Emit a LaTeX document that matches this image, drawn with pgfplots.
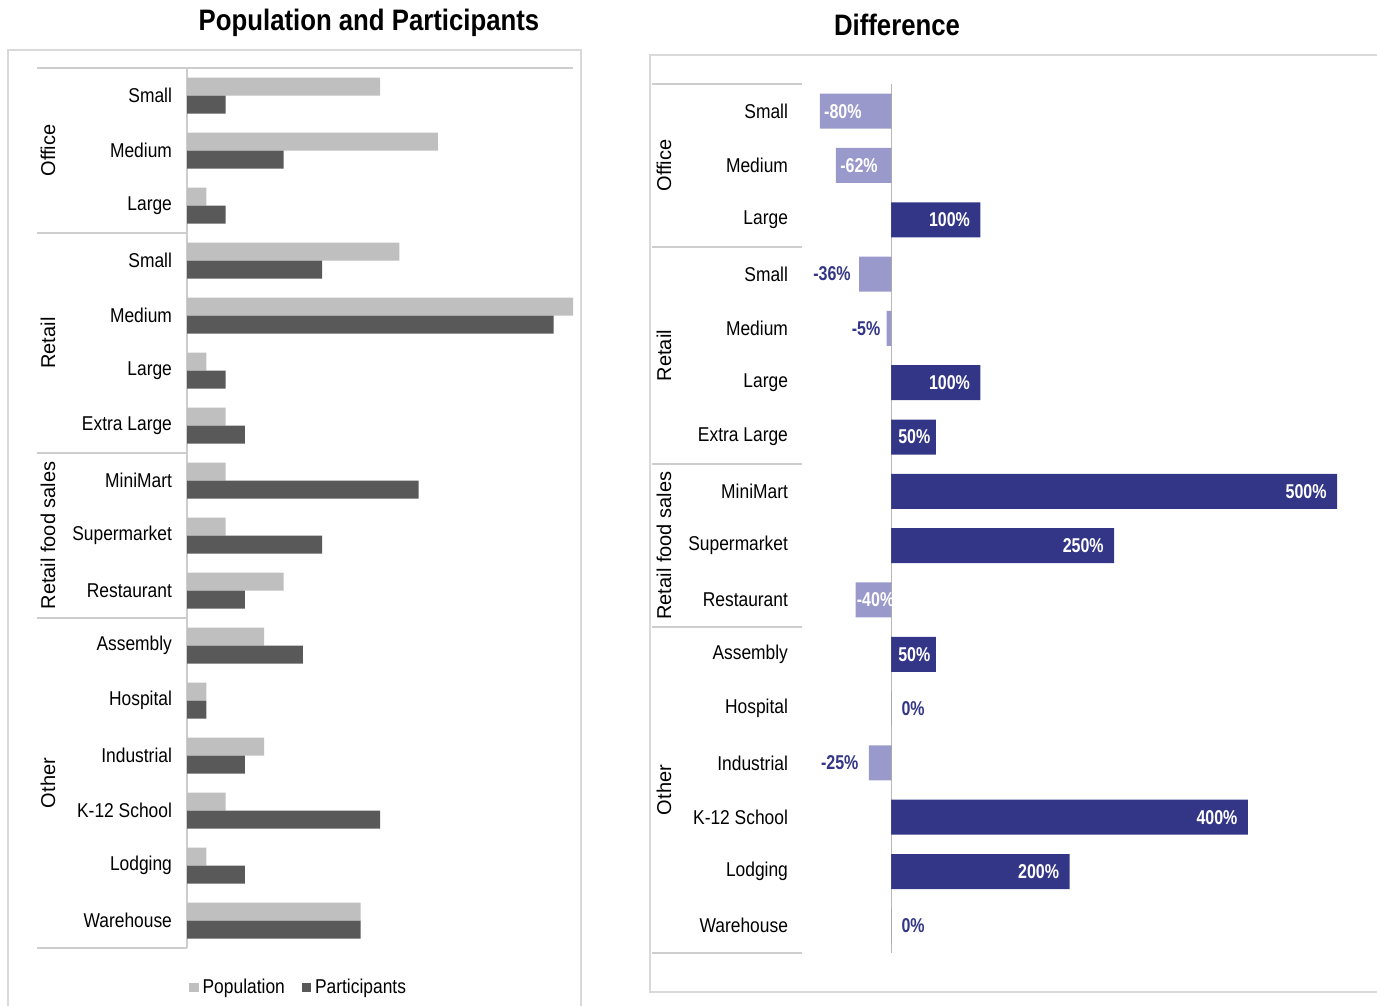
\documentclass[border=0pt]{standalone}
\usepackage{pgfplots}
\usepackage{pgfplotstable}
\pgfplotsset{compat=1.18}
\usepackage{fontspec}
\setmainfont{Liberation Sans}[FakeStretch=0.87]
\newfontfamily\grpfont{Liberation Sans}
\newfontfamily\lblfont{Liberation Sans}[FakeStretch=0.8]
\definecolor{popc}{RGB}{191,191,191}
\definecolor{partc}{RGB}{89,89,89}
\definecolor{navy}{RGB}{51,54,135}
\definecolor{lav}{RGB}{153,153,204}
\definecolor{framec}{RGB}{217,217,217}
\definecolor{sepc}{RGB}{205,205,205}
\pgfplotstableread{
y pop part
15 10 2
14 13 5
13 1 2
12 11 7
11 20 19
10 1 2
9 2 3
8 2 12
7 2 7
6 5 3
5 4 6
4 1 1
3 4 3
2 2 10
1 1 3
0 9 9
}\lefttable
\pgfplotstableread{
y pos neg
15 0 -0.80
14 0 -0.62
13 1.00 0
12 0 -0.36
11 0 -0.05
10 1.00 0
9 0.50 0
8 5.00 0
7 2.50 0
6 0 -0.40
5 0.50 0
4 0 0
3 0 -0.25
2 4.00 0
1 2.00 0
0 0 0
}\righttable
\begin{document}
\begin{tikzpicture}
\useasboundingbox (0pt,0pt) rectangle (688.5pt,-503pt);
% frames
\draw[framec, line width=0.75pt] (4pt,-25pt) rectangle (290.5pt,-512pt);
\draw[framec, line width=0.75pt] (325pt,-27.5pt) rectangle (695pt,-496pt);
% titles
\node[font=\bfseries\fontsize{14.8}{17}\selectfont] at (184.5pt,-11.5pt) {Population and Participants};
\node[font=\bfseries\fontsize{14.8}{17}\selectfont] at (448.5pt,-12.5pt) {Difference};
% LEFT
\begin{axis}[
  at={(93.5pt,-474pt)}, anchor=south west,
  scale only axis, width=193pt, height=440pt,
  xmin=0, xmax=20, ymin=-0.5, ymax=15.5,
  xbar, bar width=9pt,
  axis line style={draw=none},
  xtick=\empty, ytick={0,...,15},
  yticklabels={Warehouse,Lodging,K-12 School,Industrial,Hospital,Assembly,Restaurant,Supermarket,MiniMart,Extra Large,Large,Medium,Small,Large,Medium,Small},
  major tick length=0pt,
  yticklabel style={font=\fontsize{10}{12}\selectfont, xshift=-4pt},
  clip=false,
  legend style={draw=none, fill=none, at={(0.292,-0.045)}, anchor=center,
    legend columns=2, font=\fontsize{10}{12}\selectfont,
    /tikz/every even column/.append style={column sep=6.5pt}},
  legend image code/.code={\fill[#1] (0pt,-2.3pt) rectangle (4.6pt,2.3pt);},
]
\draw[sepc, line width=0.75pt] ([xshift=-75pt]axis cs:0,15.5) -- (axis cs:20,15.5);
\draw[sepc, line width=0.75pt] ([xshift=-75pt]axis cs:0,12.5) -- (axis cs:0,12.5);
\draw[sepc, line width=0.75pt] ([xshift=-75pt]axis cs:0,8.5) -- (axis cs:0,8.5);
\draw[sepc, line width=0.75pt] ([xshift=-75pt]axis cs:0,5.5) -- (axis cs:0,5.5);
\draw[sepc, line width=0.75pt] ([xshift=-75pt]axis cs:0,-0.5) -- (axis cs:0,-0.5);
\draw[sepc, line width=0.75pt] (axis cs:0,15.5) -- (axis cs:0,-0.5);
\addplot[fill=popc, draw=none, /pgfplots/bar shift=4.5pt] table[x=pop,y=y]{\lefttable};
\addplot[fill=partc, draw=none, /pgfplots/bar shift=-4.5pt] table[x=part,y=y]{\lefttable};
\legend{Population,Participants}
\node[rotate=90, font=\grpfont\fontsize{10}{12}\selectfont] at ([xshift=-69.5pt]axis cs:0,14) {Office};
\node[rotate=90, font=\grpfont\fontsize{10}{12}\selectfont] at ([xshift=-69.5pt]axis cs:0,10.5) {Retail};
\node[rotate=90, font=\grpfont\fontsize{10}{12}\selectfont] at ([xshift=-69.5pt]axis cs:0,7) {Retail food sales};
\node[rotate=90, font=\grpfont\fontsize{10}{12}\selectfont] at ([xshift=-69.5pt]axis cs:0,2.5) {Other};
\end{axis}
% RIGHT
\begin{axis}[
  at={(401pt,-476.5pt)}, anchor=south west,
  scale only axis, width=267.5pt, height=434.5pt,
  xmin=-1, xmax=5, ymin=-0.5, ymax=15.5,
  xbar, bar width=17.5pt,
  axis line style={draw=none},
  xtick=\empty, ytick={0,...,15},
  yticklabels={Warehouse,Lodging,K-12 School,Industrial,Hospital,Assembly,Restaurant,Supermarket,MiniMart,Extra Large,Large,Medium,Small,Large,Medium,Small},
  major tick length=0pt,
  yticklabel style={font=\fontsize{10}{12}\selectfont, xshift=-3.5pt},
  clip=false,
]
\draw[sepc, line width=0.75pt] ([xshift=-75pt]axis cs:-1,15.5) -- (axis cs:-1,15.5);
\draw[sepc, line width=0.75pt] ([xshift=-75pt]axis cs:-1,12.5) -- (axis cs:-1,12.5);
\draw[sepc, line width=0.75pt] ([xshift=-75pt]axis cs:-1,8.5) -- (axis cs:-1,8.5);
\draw[sepc, line width=0.75pt] ([xshift=-75pt]axis cs:-1,5.5) -- (axis cs:-1,5.5);
\draw[sepc, line width=0.75pt] ([xshift=-75pt]axis cs:-1,-0.5) -- (axis cs:-1,-0.5);
\draw[sepc!90!black, line width=0.5pt] (axis cs:0,15.5) -- (axis cs:0,-0.5);
\addplot[fill=navy, draw=none, /pgfplots/bar shift=0pt] table[x=pos,y=y]{\righttable};
\addplot[fill=lav, draw=none, /pgfplots/bar shift=0pt] table[x=neg,y=y]{\righttable};
\node[rotate=90, font=\grpfont\fontsize{10}{12}\selectfont] at ([xshift=-69pt]axis cs:-1,14) {Office};
\node[rotate=90, font=\grpfont\fontsize{10}{12}\selectfont] at ([xshift=-69pt]axis cs:-1,10.5) {Retail};
\node[rotate=90, font=\grpfont\fontsize{10}{12}\selectfont] at ([xshift=-69pt]axis cs:-1,7) {Retail food sales};
\node[rotate=90, font=\grpfont\fontsize{10}{12}\selectfont] at ([xshift=-69pt]axis cs:-1,2.5) {Other};
\tikzset{lw/.style={font=\lblfont\bfseries\fontsize{10}{12}\selectfont, text=white, inner sep=2pt},
         ln/.style={font=\lblfont\bfseries\fontsize{10}{12}\selectfont, text=navy, inner sep=2pt}}
\node[lw, anchor=west] at (axis cs:-0.80,15) {-80\%};
\node[lw, anchor=west] at (axis cs:-0.62,14) {-62\%};
\node[lw, anchor=east] at ([xshift=-3pt]axis cs:1,13) {100\%};
\node[ln, anchor=east] at ([xshift=-2pt]axis cs:-0.36,12) {-36\%};
\node[ln, anchor=east] at ([xshift=-1pt]axis cs:-0.05,11) {-5\%};
\node[lw, anchor=east] at ([xshift=-3pt]axis cs:1,10) {100\%};
\node[lw, anchor=east] at ([xshift=-0.5pt]axis cs:0.5,9) {50\%};
\node[lw, anchor=east] at ([xshift=-3pt]axis cs:5,8) {500\%};
\node[lw, anchor=east] at ([xshift=-3pt]axis cs:2.5,7) {250\%};
\node[lw, anchor=west] at ([xshift=-1.5pt]axis cs:-0.40,6) {-40\%};
\node[lw, anchor=east] at ([xshift=-0.5pt]axis cs:0.5,5) {50\%};
\node[ln, anchor=west] at ([xshift=3pt]axis cs:0,4) {0\%};
\node[ln, anchor=east] at ([xshift=-3pt]axis cs:-0.25,3) {-25\%};
\node[lw, anchor=east] at ([xshift=-3pt]axis cs:4,2) {400\%};
\node[lw, anchor=east] at ([xshift=-3pt]axis cs:2,1) {200\%};
\node[ln, anchor=west] at ([xshift=3pt]axis cs:0,0) {0\%};
\end{axis}
\end{tikzpicture}
\end{document}
